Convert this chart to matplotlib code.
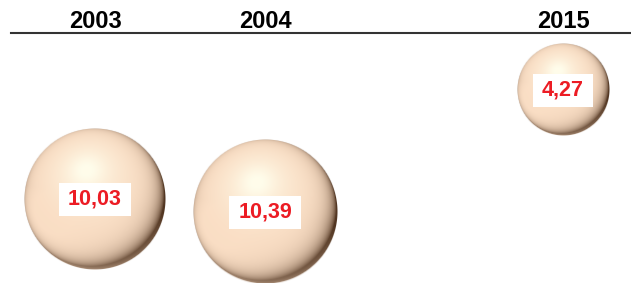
import numpy as np
import matplotlib
matplotlib.use("Agg")
import matplotlib.pyplot as plt
from matplotlib.patches import Rectangle

# data
years = ["2003", "2004", "2015"]
values = [10.03, 10.39, 4.27]

# layout (pixel coords of the 631x283 canvas)
x_pos = [95, 265, 563]
y_pos = [199, 212, 90]
scale = 22.4  # radius = scale * sqrt(value)

W, H = 631, 283
fig = plt.figure(figsize=(W / 100, H / 100), dpi=100)
ax = fig.add_axes([0, 0, 1, 1])
ax.set_xlim(0, W)
ax.set_ylim(H, 0)
ax.axis("off")

dark = np.array([0.32, 0.21, 0.13])
base = np.array([0.98, 0.87, 0.77])
light = np.array([1.0, 0.99, 0.92])


def unit(a):
    a = np.array(a, dtype=float)
    return a / np.linalg.norm(a)


def sphere_image(r):
    n = int(2 * r) + 2
    u = np.linspace(-1, 1, n)
    uu, vv = np.meshgrid(u, -u)
    r2 = uu ** 2 + vv ** 2
    nz = np.sqrt(np.clip(1 - r2, 0, 1))
    L = unit([-0.18, 0.3, 0.93])
    d = np.clip(uu * L[0] + vv * L[1] + nz * L[2], 0, 1)
    g = 1 - (1 - d) ** 3.2
    # reflected light on the lower rim
    rim = (1 - nz) ** 1.6 * np.clip(-vv - 0.2 * uu, 0, 1)
    g = np.clip(g + 0.6 * rim, 0, 1)
    # broad highlight
    Hh = unit([-0.12, 0.4, 0.9])
    sd = np.clip(uu * Hh[0] + vv * Hh[1] + nz * Hh[2], 0, 1)
    s = 0.65 * sd ** 7 + 0.4 * sd ** 35
    col = dark + (base - dark) * g[..., None]
    col = col + (light - col) * np.clip(s, 0, 1)[..., None]
    col = np.clip(col, 0, 1)
    alpha = np.clip((1 - np.sqrt(r2)) * r + 0.5, 0, 1)
    return np.dstack([col, alpha])


fig.canvas.draw()
renderer = fig.canvas.get_renderer()

for yr, v, cx, cy in zip(years, values, x_pos, y_pos):
    r = scale * np.sqrt(v)
    ax.imshow(sphere_image(r), extent=(cx - r, cx + r, cy + r, cy - r),
              origin="upper", interpolation="bilinear", zorder=2)
    t = ax.text(cx, cy, f"{v:.2f}".replace(".", ","), ha="center",
                va="center", color="#ec1c24", fontsize=15.5,
                fontweight="bold", family="Liberation Sans", zorder=4)
    bb = t.get_window_extent(renderer)
    tw = bb.width
    ax.add_patch(Rectangle((cx - tw / 2 - 9, cy - 16.5), tw + 18, 33,
                           facecolor="white", edgecolor="none", zorder=3))
    ax.text(cx, 22, yr, ha="center", va="center", fontsize=17,
            fontweight="bold", family="Liberation Sans", color="black")

ax.plot([11, W], [33, 33], color="#333333", lw=1.5)
ax.set_xlim(0, W)
ax.set_ylim(H, 0)
ax.set_aspect("auto")

fig.savefig("out.png", dpi=100)
